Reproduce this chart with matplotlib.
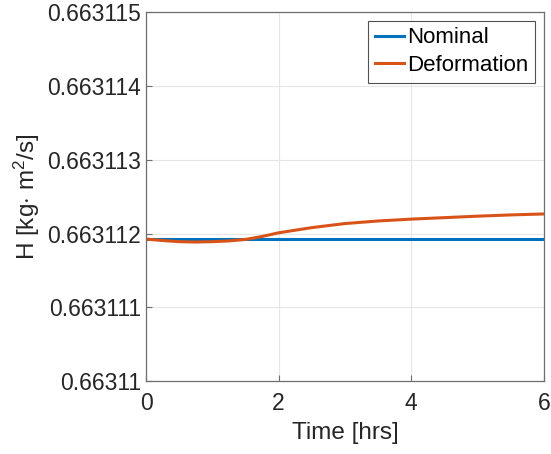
import numpy as np
import matplotlib
matplotlib.use("Agg")
import matplotlib.pyplot as plt
from matplotlib.ticker import FuncFormatter

plt.rcParams['font.family'] = ['Liberation Sans', 'DejaVu Sans']
plt.rcParams['mathtext.fontset'] = 'custom'
plt.rcParams['mathtext.rm'] = 'Liberation Sans'
plt.rcParams['mathtext.it'] = 'Liberation Sans:italic'

# time in hours, H values
t_nom = [0, 6]
H_nom = [0.66311193, 0.66311193]

t_def = [0, 0.25, 0.5, 0.75, 1.0, 1.25, 1.5, 1.75, 2.0, 2.5, 3.0, 3.5, 4.0, 4.5, 5.0, 5.5, 6.0]
H_def = [0.663111925, 0.663111905, 0.66311189, 0.663111885, 0.66311189, 0.6631119,
         0.66311192, 0.66311196, 0.66311201, 0.66311208, 0.663112135, 0.66311217,
         0.663112195, 0.663112215, 0.663112235, 0.663112252, 0.663112265]

fig, ax = plt.subplots(figsize=(5.51, 4.54), dpi=100)
fig.subplots_adjust(left=0.265, right=0.987, top=0.974, bottom=0.16)

ax.plot(t_nom, H_nom, color='#0072BD', lw=2.2, label='Nominal')
ax.plot(t_def, H_def, color='#D95319', lw=2.2, label='Deformation')

ax.set_xlim(0, 6)
ax.set_ylim(0.66311, 0.663115)
ax.set_xticks([0, 2, 4, 6])
ax.set_yticks(np.arange(0.66311, 0.6631151, 0.000001))
ax.yaxis.set_major_formatter(FuncFormatter(lambda v, p: f"{v:.6f}".rstrip('0')))
ax.tick_params(direction='in', labelsize=16.5, colors='#6e6e6e', labelcolor='#262626', length=4)
ax.tick_params(axis='x', pad=8)
ax.grid(True, color='#e6e6e6', lw=0.8)
ax.set_axisbelow(True)
for s in ax.spines.values():
    s.set_color('#6e6e6e')
    s.set_linewidth(0.9)

ax.set_xlabel('Time [hrs]', fontsize=17.5, color='#262626', labelpad=5)
ax.set_ylabel(r'H [kg$\cdot$ m$^2$/s]', fontsize=17.5, color='#262626')

leg = ax.legend(loc='upper right', fontsize=16, frameon=True, fancybox=False,
                handlelength=1.3, handletextpad=0.15, borderpad=0.3,
                labelspacing=0.3, borderaxespad=0.4)
leg.get_frame().set_edgecolor('#262626')
leg.get_frame().set_linewidth(0.8)

fig.savefig('out.png', dpi=100)
